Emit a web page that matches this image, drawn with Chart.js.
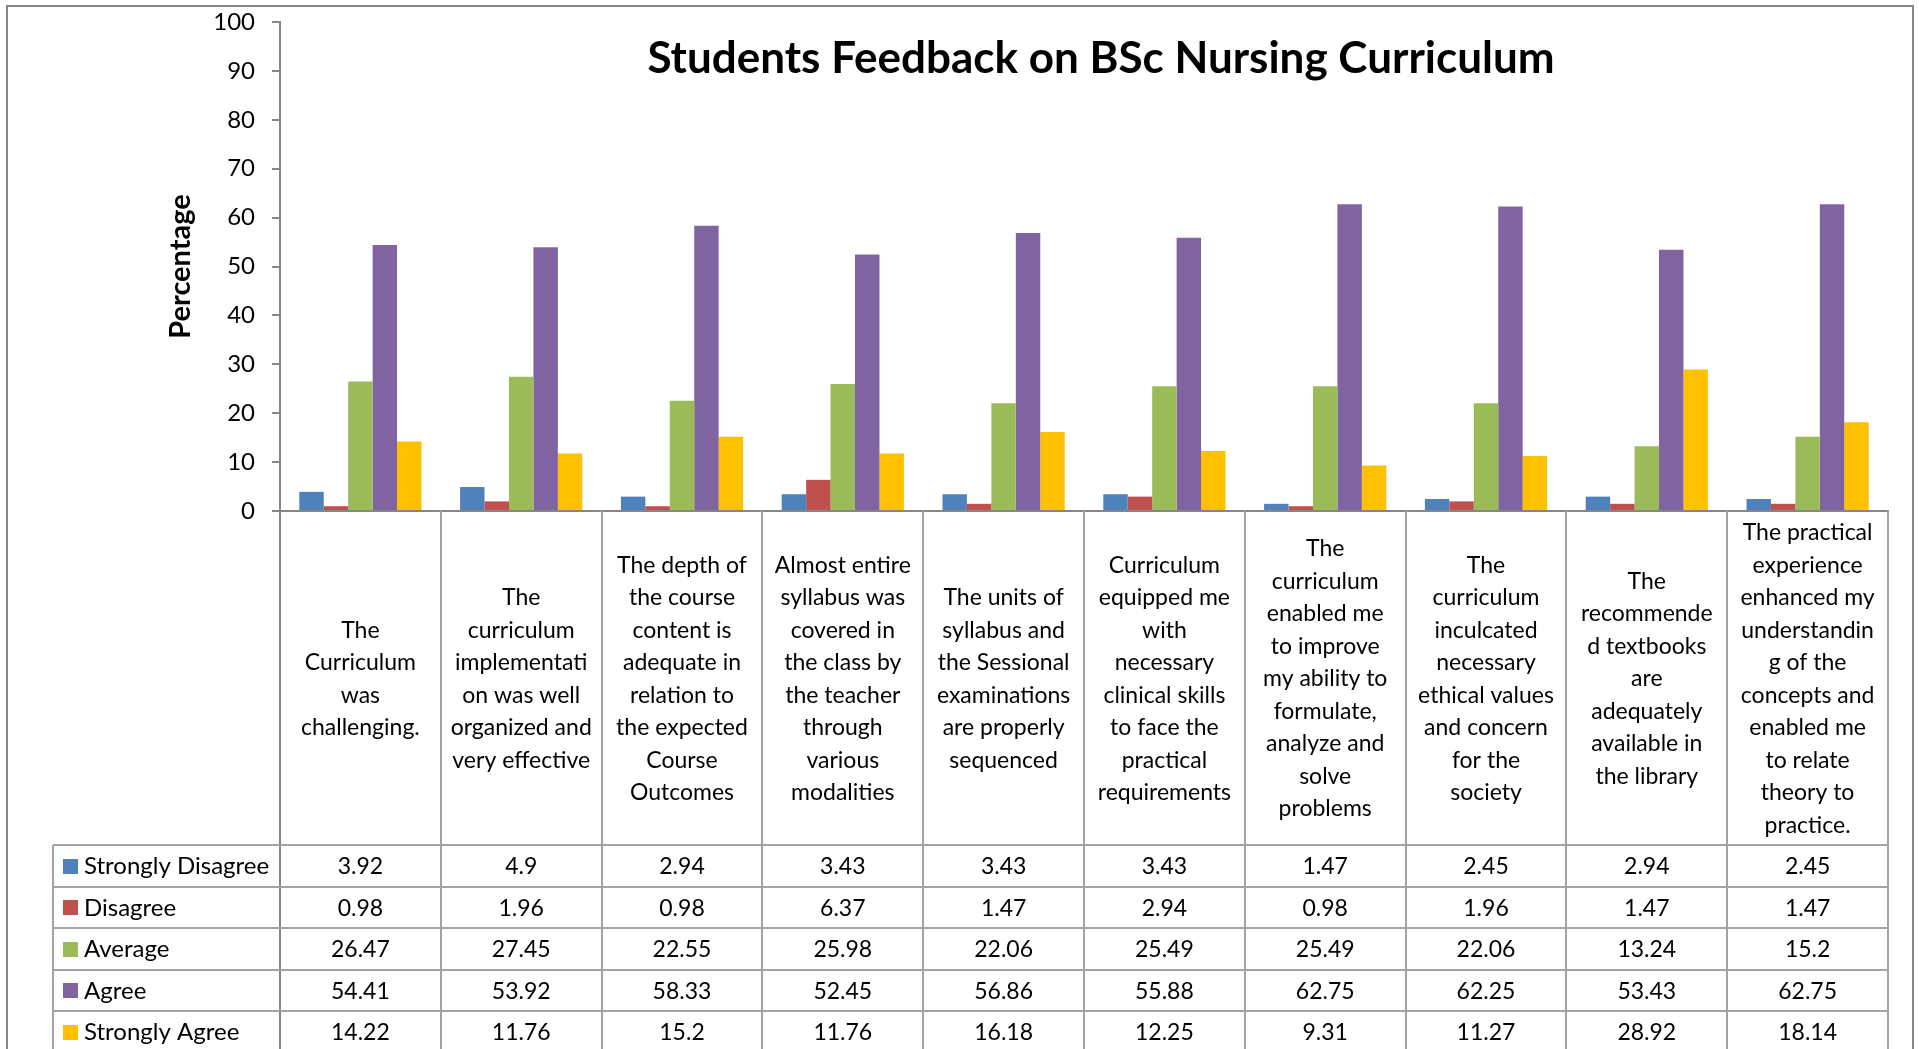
<!DOCTYPE html>
<html>
<head>
<meta charset="utf-8">
<title>Students Feedback on BSc Nursing Curriculum</title>
<script src="https://cdn.jsdelivr.net/npm/chart.js@4.4.1/dist/chart.umd.min.js"></script>
<style>
  html, body { margin: 0; padding: 0; background: #fff; }
  #wrap { position: relative; width: 1919px; height: 1049px; overflow: hidden; }
</style>
</head>
<body>
<div id="wrap"><canvas id="feedback" width="1919" height="1049"></canvas></div>
<script>
// categories, already wrapped the way the sheet wraps them
const categories = [
  ['The', 'Curriculum', 'was', 'challenging.'],
  ['The', 'curriculum', 'implementati', 'on was well', 'organized and', 'very effective'],
  ['The depth of', 'the course', 'content is', 'adequate in', 'relation to', 'the expected', 'Course', 'Outcomes'],
  ['Almost entire', 'syllabus was', 'covered in', 'the class by', 'the teacher', 'through', 'various', 'modalities'],
  ['The units of', 'syllabus and', 'the Sessional', 'examinations', 'are properly', 'sequenced'],
  ['Curriculum', 'equipped me', 'with', 'necessary', 'clinical skills', 'to face the', 'practical', 'requirements'],
  ['The', 'curriculum', 'enabled me', 'to improve', 'my ability to', 'formulate,', 'analyze and', 'solve', 'problems'],
  ['The', 'curriculum', 'inculcated', 'necessary', 'ethical values', 'and concern', 'for the', 'society'],
  ['The', 'recommende', 'd textbooks', 'are', 'adequately', 'available in', 'the library'],
  ['The practical', 'experience', 'enhanced my', 'understandin', 'g of the', 'concepts and', 'enabled me', 'to relate', 'theory to', 'practice.']
];

const stronglyDisagree = [3.92, 4.9, 2.94, 3.43, 3.43, 3.43, 1.47, 2.45, 2.94, 2.45];
const disagree = [0.98, 1.96, 0.98, 6.37, 1.47, 2.94, 0.98, 1.96, 1.47, 1.47];
const average = [26.47, 27.45, 22.55, 25.98, 22.06, 25.49, 25.49, 22.06, 13.24, 15.2];
const agree = [54.41, 53.92, 58.33, 52.45, 56.86, 55.88, 62.75, 62.25, 53.43, 62.75];
const stronglyAgree = [14.22, 11.76, 15.2, 11.76, 16.18, 12.25, 9.31, 11.27, 28.92, 18.14];

const seriesNames = ['Strongly Disagree', 'Disagree', 'Average', 'Agree', 'Strongly Agree'];
const seriesValues = [stronglyDisagree, disagree, average, agree, stronglyAgree];
const seriesColors = ['#4F81BD', '#C0504D', '#9BBB59', '#8064A2', '#FFC000'];

const FONT = 'Lato, "Open Sans", sans-serif';
const AXIS_GRAY = '#868686';
const TABLE_GRAY = '#a3a3a3';

Chart.defaults.font.family = FONT;
Chart.defaults.color = '#000';

// table under the plot: wrapped category labels + data rows with legend keys
const tableLabelBottom = 845;
const tableRowH = 41.5;
const tableLeft = 53;

const line = (ctx, x1, y1, x2, y2) => {
  ctx.beginPath();
  ctx.moveTo(x1, y1);
  ctx.lineTo(x2, y2);
  ctx.stroke();
};

const dataTable = {
  id: 'dataTable',
  afterDraw(chart) {
    const { ctx, chartArea: area } = chart;
    const xs = chart.scales.x;
    const n = categories.length;
    const colW = (area.right - area.left) / n;
    const bottom = chart.height + 20;
    ctx.save();

    // outer frame
    ctx.strokeStyle = AXIS_GRAY;
    ctx.lineWidth = 2;
    ctx.strokeRect(7, 6, 1906, chart.height + 20);

    // grid of the table
    ctx.strokeStyle = TABLE_GRAY;
    ctx.lineWidth = 2;
    for (let i = 1; i <= n; i++) {
      const bx = Math.round(area.left + i * colW);
      line(ctx, bx, area.bottom, bx, bottom);
    }
    ctx.strokeStyle = AXIS_GRAY;
    line(ctx, area.left, area.bottom, area.left, bottom);
    ctx.strokeStyle = TABLE_GRAY;
    line(ctx, tableLeft, tableLabelBottom, tableLeft, bottom);
    for (let r = 0; r < seriesNames.length; r++) {
      const y = Math.round(tableLabelBottom + r * tableRowH);
      line(ctx, tableLeft, y, area.right, y);
    }

    // category labels, centred in their cells
    ctx.fillStyle = '#000';
    ctx.textAlign = 'center';
    ctx.textBaseline = 'middle';
    ctx.font = '23px ' + FONT;
    const lh = 32.5;
    const cy = (area.bottom + tableLabelBottom) / 2;
    categories.forEach((lines, i) => {
      const cx = xs.getPixelForValue(i);
      const top = cy - (lines.length - 1) * lh / 2;
      lines.forEach((t, j) => ctx.fillText(t, cx, top + j * lh + 1));
    });

    // data rows
    chart.data.datasets.forEach((ds, r) => {
      const rowY = tableLabelBottom + r * tableRowH + tableRowH / 2 + 1;
      ctx.fillStyle = ds.backgroundColor;
      ctx.fillRect(63, Math.round(rowY - 8), 15, 15);
      ctx.fillStyle = '#000';
      ctx.textAlign = 'left';
      ctx.font = '24px ' + FONT;
      ctx.fillText(ds.label, 84, rowY);
      ctx.textAlign = 'center';
      ctx.font = '23px ' + FONT;
      ds.data.forEach((v, i) => ctx.fillText(String(v), xs.getPixelForValue(i), rowY));
    });

    // chart title sits inside the plot area
    ctx.font = 'bold 44px ' + FONT;
    ctx.textAlign = 'center';
    ctx.textBaseline = 'alphabetic';
    ctx.fillText('Students Feedback on BSc Nursing Curriculum', 1101, 73);
    ctx.restore();
  }
};

new Chart(document.getElementById('feedback'), {
  type: 'bar',
  data: {
    labels: categories.map(c => c.join(' ')),
    datasets: seriesNames.map((name, k) => ({
      label: name,
      data: seriesValues[k],
      backgroundColor: seriesColors[k],
      borderWidth: 0,
      categoryPercentage: 0.76,
      barPercentage: 1.0
    }))
  },
  options: {
    responsive: false,
    animation: false,
    devicePixelRatio: 1,
    layout: { padding: { left: 163, right: 31, top: 22, bottom: 0 } },
    plugins: {
      legend: { display: false },
      tooltip: { enabled: false },
      title: { display: false }
    },
    scales: {
      x: {
        ticks: { display: false },
        grid: { display: false },
        border: { color: AXIS_GRAY, width: 2 },
        afterFit(scale) { scale.height = 538; }
      },
      y: {
        min: 0,
        max: 100,
        ticks: { stepSize: 10, padding: 17, font: { size: 24 }, color: '#000' },
        grid: { drawOnChartArea: false, drawTicks: true, tickLength: 8, color: AXIS_GRAY, lineWidth: 2 },
        border: { color: AXIS_GRAY, width: 2 },
        title: { display: true, text: 'Percentage', font: { size: 29, weight: 'bold' }, padding: 0, color: '#000' },
        afterFit(scale) {
          // tick padding would otherwise push the plot top down
          scale.width = 117;
          scale.paddingTop = 0;
          scale.paddingBottom = 0;
        }
      }
    }
  },
  plugins: [dataTable]
});
</script>
</body>
</html>
